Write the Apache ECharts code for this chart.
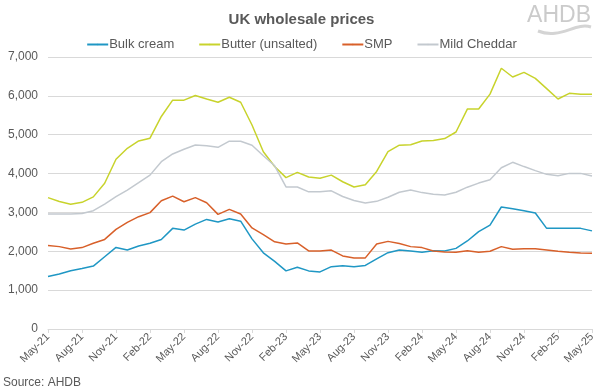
<!DOCTYPE html>
<html>
<head>
<meta charset="utf-8">
<script src="https://cdn.jsdelivr.net/npm/echarts@6/dist/echarts.min.js"></script>
<style>
html,body{margin:0;padding:0;background:#fff;}
#chart{width:603px;height:392px;}
</style>
</head>
<body>
<div id="chart"></div>
<script>
const months = ["May-21","Jun-21","Jul-21","Aug-21","Sep-21","Oct-21","Nov-21","Dec-21","Jan-22","Feb-22","Mar-22","Apr-22",
"May-22","Jun-22","Jul-22","Aug-22","Sep-22","Oct-22","Nov-22","Dec-22","Jan-23","Feb-23","Mar-23","Apr-23",
"May-23","Jun-23","Jul-23","Aug-23","Sep-23","Oct-23","Nov-23","Dec-23","Jan-24","Feb-24","Mar-24","Apr-24",
"May-24","Jun-24","Jul-24","Aug-24","Sep-24","Oct-24","Nov-24","Dec-24","Jan-25","Feb-25","Mar-25","Apr-25","May-25"];

const bulkCream = [1350,1415,1500,1555,1620,1860,2100,2035,2135,2205,2305,2590,2545,2700,2820,2755,2835,2775,2320,1960,1740,1495,1590,1495,1470,1605,1625,1605,1635,1805,1965,2035,2005,1975,2015,2005,2075,2265,2505,2675,3140,3095,3045,2985,2590,2590,2590,2590,2525];
const butter = [3380,3280,3210,3260,3400,3750,4370,4650,4840,4910,5470,5890,5890,6010,5920,5835,5965,5835,5250,4560,4180,3895,4030,3910,3880,3960,3790,3655,3710,4055,4565,4730,4740,4840,4850,4900,5070,5660,5660,6045,6710,6485,6605,6450,6185,5920,6065,6040,6040];
const smp = [2150,2120,2060,2095,2205,2305,2565,2745,2890,2995,3300,3420,3275,3380,3250,2950,3080,2960,2600,2430,2245,2190,2215,2010,2010,2030,1880,1830,1830,2190,2255,2200,2120,2095,2005,1980,1975,2015,1975,2000,2120,2050,2065,2065,2035,2000,1975,1955,1950];
const mildCheddar = [2960,2960,2960,2970,3045,3215,3405,3575,3765,3960,4305,4505,4625,4735,4715,4675,4835,4830,4730,4460,4200,3655,3655,3530,3530,3555,3410,3305,3240,3285,3390,3520,3575,3510,3470,3450,3520,3650,3755,3840,4150,4290,4180,4075,3980,3945,4005,4005,3935];

const seriesNames = ["Bulk cream","Butter (unsalted)","SMP","Mild Cheddar"];
const seriesColors = ["#1f97c4","#c8d32c","#d8602a","#c3c9cf"];
const seriesData = [bulkCream, butter, smp, mildCheddar];

const FONT = "'Liberation Sans', Arial, sans-serif";
const TXT = "#595959";

const chart = echarts.init(document.getElementById('chart'), null, {renderer:'canvas'});
chart.setOption({
  animation:false,
  backgroundColor:'#fff',
  title:{
    text:'UK wholesale prices',
    left:'center', top:7,
    textStyle:{fontFamily:FONT,fontSize:15,fontWeight:'bold',color:TXT}
  },
  legend:{
    top:33, left:'center',
    itemWidth:21, itemHeight:2, itemGap:24,
    textStyle:{fontFamily:FONT,fontSize:13,color:TXT,padding:[0,0,0,-4]},
    data:seriesNames
  },
  grid:{left:48,right:11,top:57,bottom:63,containLabel:false,outerBoundsMode:'none'},
  xAxis:{
    type:'category', data:months, boundaryGap:false,
    axisLine:{lineStyle:{color:'#d9d9d9'}},
    axisTick:{show:true,interval:2,length:4,lineStyle:{color:'#d9d9d9'}},
    axisLabel:{interval:2,rotate:45,fontFamily:FONT,fontSize:11,color:TXT,margin:6},
    splitLine:{show:false}
  },
  yAxis:{
    type:'value', min:0, max:7000, interval:1000,
    name:'£/tonne', nameLocation:'middle', nameGap:39,
    nameTextStyle:{fontFamily:FONT,fontSize:12,color:TXT},
    axisLine:{show:false}, axisTick:{show:false},
    axisLabel:{fontFamily:FONT,fontSize:12,color:TXT,margin:10,
      formatter:v=>v.toLocaleString('en-GB')},
    splitLine:{lineStyle:{color:'#d9d9d9',width:1}}
  },
  graphic:[
    {type:'text',left:3,top:377,style:{text:'Source: AHDB',font:"12px "+FONT,fill:TXT}},
    {type:'text',right:12,top:4,style:{text:'AHDB',font:"23px "+FONT,fill:'#cbcbcb'}},
    {type:'bezierCurve',shape:{x1:538,y1:31,x2:591,y2:27,cpx1:560,cpy1:40,cpx2:575,cpy2:22},style:{stroke:'#d4d4d4',lineWidth:3,fill:null}}
  ],
  series:seriesNames.map((n,i)=>({
    name:n,type:'line',data:seriesData[i],symbol:'none',
    lineStyle:{color:seriesColors[i],width:1.5},
    itemStyle:{color:seriesColors[i]}
  }))
});
</script>
</body>
</html>
